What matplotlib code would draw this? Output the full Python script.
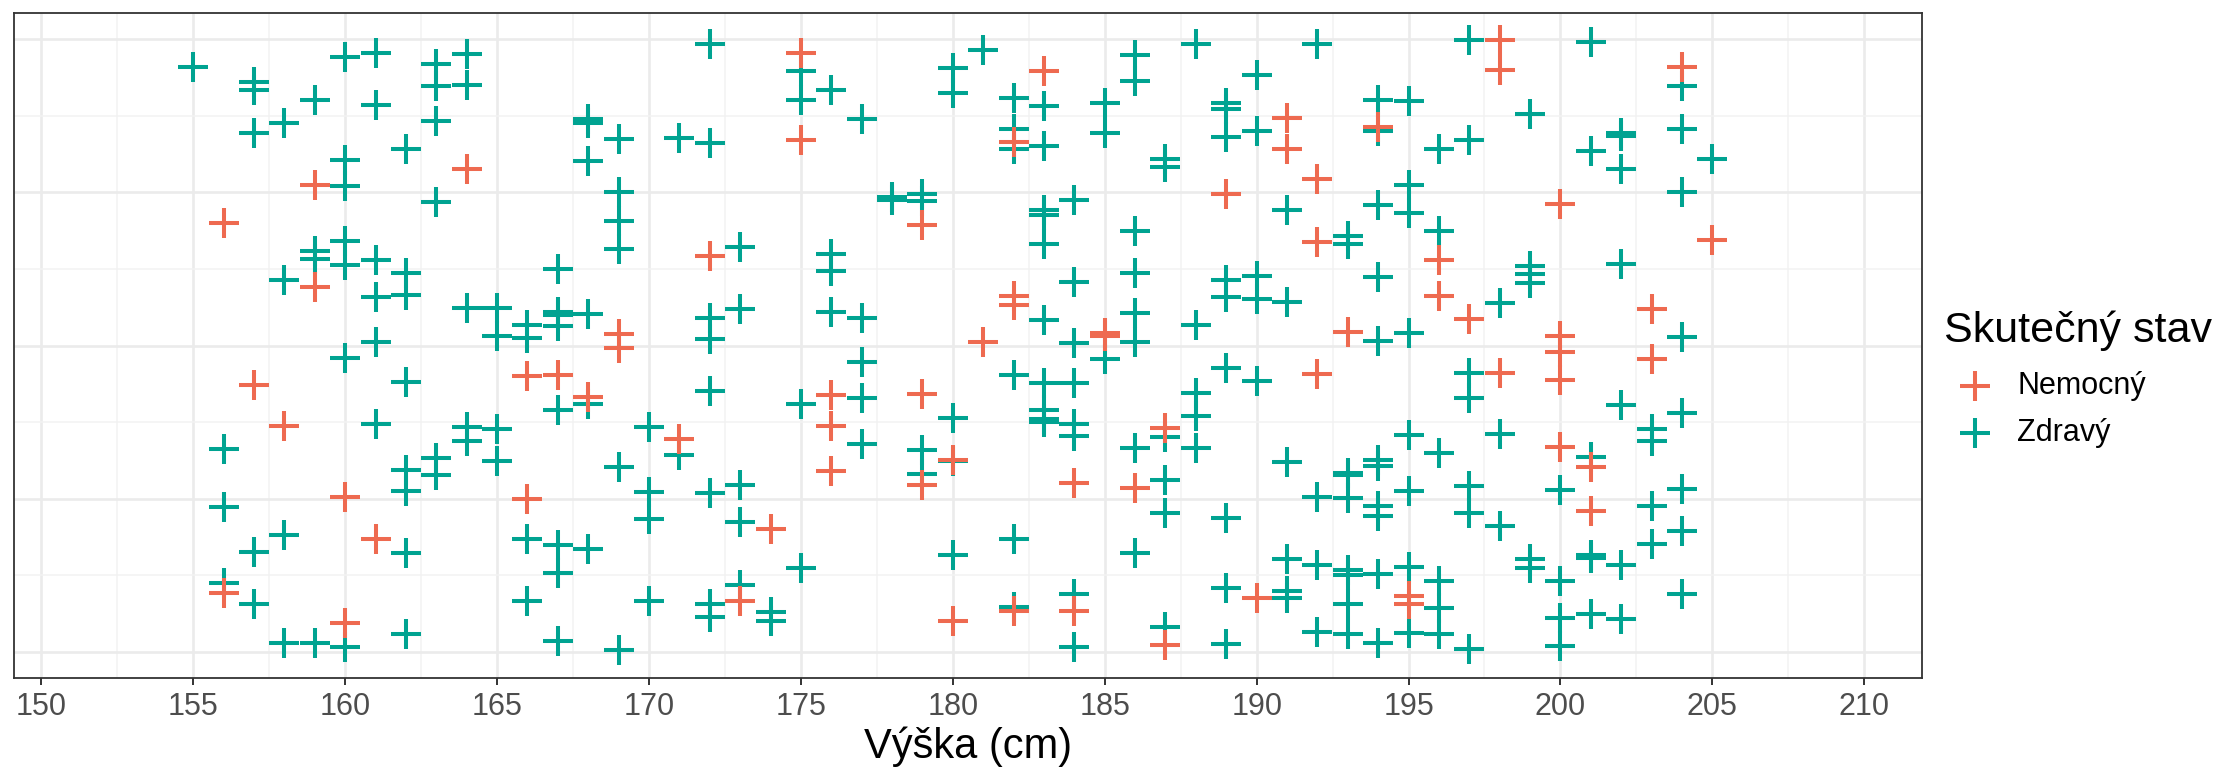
import matplotlib
matplotlib.use("Agg")
import matplotlib.pyplot as plt
from matplotlib.markers import MarkerStyle
import numpy as np

# vyska = height in cm, rozptyl = vertical jitter (gridlines at whole numbers)
nemocny_vyska = [156, 156, 157, 158, 159, 159, 160, 160, 161, 164, 166, 166, 167, 168, 169, 169,
                 171, 172, 173, 174, 175, 175, 176, 176, 176, 179, 179, 179, 180, 180, 181,
                 182, 182, 182, 182, 183, 184, 184, 185, 185, 186, 187, 187, 189, 190, 191, 191,
                 192, 192, 192, 193, 194, 195, 195, 196, 196, 197, 198, 198, 198,
                 200, 200, 200, 200, 200, 201, 201, 203, 203, 204, 205]
nemocny_rozptyl = [5.60, 0.77, 3.48, 2.95, 6.09, 4.77, 2.02, 0.38, 1.47, 6.30, 3.60, 2.00, 3.62, 3.33, 4.15, 3.97,
                   2.78, 5.17, 0.66, 1.61, 7.82, 6.68, 3.35, 2.95, 2.36, 5.57, 3.37, 2.18, 2.50, 0.41, 4.04,
                   6.66, 4.65, 4.53, 0.54, 7.58, 2.21, 0.53, 4.16, 4.13, 2.14, 2.92, 0.09, 5.98, 0.70, 6.97, 6.57,
                   6.17, 5.35, 3.63, 4.17, 6.85, 0.73, 0.63, 5.11, 4.64, 4.34, 7.99, 7.59, 3.64,
                   5.85, 4.13, 3.91, 3.55, 2.67, 2.41, 1.84, 4.47, 3.82, 7.64, 5.38]

zdravy_vyska = (
    [155] + [156] * 3 + [157] * 5 + [158] * 4 + [159] * 4 + [160] * 7 + [161] * 6 + [162] * 8
    + [163] * 6 + [164] * 5 + [165] * 4 + [166] * 4 + [167] * 8 + [168] * 6 + [169] * 6 + [170] * 4
    + [171] * 2 + [172] * 8 + [173] * 5 + [174] * 2 + [175] * 4 + [176] * 4 + [177] * 5 + [178] * 2
    + [179] * 4 + [180] * 5 + [181] * 1 + [182] * 6 + [183] * 10 + [184] * 8 + [185] * 3 + [186] * 8
    + [187] * 6 + [188] * 5 + [189] * 9 + [190] * 5 + [191] * 6 + [192] * 4 + [193] * 9 + [194] * 11
    + [195] * 8 + [196] * 6 + [197] * 7 + [198] * 3 + [199] * 6 + [200] * 4 + [201] * 6 + [202] * 7
    + [203] * 4 + [204] * 8 + [205] * 1
)
zdravy_rozptyl = [
    7.64,
    2.65, 1.89, 0.90,
    7.44, 7.33, 6.77, 1.31, 0.63,
    6.91, 4.85, 1.53, 0.12,
    7.21, 5.24, 5.13, 0.12,
    7.77, 6.42, 6.08, 5.37, 5.05, 3.84, 0.07,
    7.82, 7.14, 5.11, 4.63, 4.05, 2.97,
    6.56, 4.95, 4.66, 3.52, 2.38, 2.10, 1.29, 0.23,
    7.67, 7.39, 6.93, 5.87, 2.53, 2.31,
    7.80, 7.40, 4.49, 2.94, 2.75,
    4.49, 4.12, 2.91, 2.49,
    4.27, 4.10, 1.47, 0.67,
    5.00, 4.44, 4.40, 4.25, 3.16, 1.40, 1.03, 0.14,
    6.95, 6.90, 6.41, 4.41, 3.24, 1.34,
    6.70, 6.00, 5.63, 5.26, 2.41, 0.02,
    2.93, 2.09, 1.73, 0.67,
    6.71, 2.57,
    7.93, 6.64, 4.36, 4.09, 3.41, 2.07, 0.63, 0.45,
    5.28, 4.47, 2.18, 1.70, 0.88,
    0.52, 0.41,
    7.58, 7.20, 3.23, 1.09,
    7.33, 5.19, 4.97, 4.44,
    6.96, 4.36, 3.79, 3.32, 2.71,
    5.94, 5.90,
    5.98, 5.88, 2.63, 2.32,
    7.62, 7.30, 3.05, 2.49, 1.26,
    7.86,
    7.23, 6.82, 6.56, 3.62, 1.48, 0.59,
    7.13, 6.61, 5.77, 5.70, 5.32, 4.33, 3.51, 3.16, 3.04, 3.00,
    5.90, 4.83, 4.03, 3.51, 2.98, 2.82, 0.75, 0.07,
    7.17, 6.77, 3.83,
    7.79, 7.45, 5.50, 4.95, 4.43, 4.05, 2.66, 1.29,
    6.43, 6.33, 2.81, 2.24, 1.81, 0.33,
    7.93, 4.27, 3.38, 3.08, 2.66,
    7.17, 7.09, 6.72, 4.85, 4.63, 3.71, 1.75, 0.84, 0.10,
    7.53, 6.80, 4.91, 4.61, 3.54,
    5.77, 4.57, 2.48, 1.21, 0.80, 0.71,
    7.94, 2.02, 1.13, 0.26,
    5.43, 5.33, 2.34, 2.31, 2.01, 1.07, 1.00, 0.63, 0.24,
    7.20, 6.80, 5.84, 4.89, 4.06, 2.50, 2.43, 1.91, 1.78, 1.02, 0.12,
    7.19, 6.09, 5.73, 4.16, 2.83, 2.10, 1.11, 0.25,
    6.57, 5.50, 2.60, 0.93, 0.57, 0.23,
    7.99, 6.68, 3.64, 3.32, 2.16, 1.81, 0.04,
    4.56, 2.85, 1.65,
    7.02, 5.04, 4.93, 4.81, 1.21, 1.09,
    2.11, 0.93, 0.44, 0.08,
    7.96, 6.54, 2.54, 1.27, 1.23, 0.49,
    6.77, 6.74, 6.30, 5.07, 3.22, 1.14, 0.43,
    2.91, 2.76, 1.90, 1.41,
    7.39, 6.83, 6.00, 4.11, 3.12, 2.13, 1.58, 0.76,
    6.43,
]

x_ticks = list(range(150, 211, 5))
barva_nemocny = "#EE6A50"
barva_zdravy = "#00A391"

plt.rcParams['font.family'] = ['Liberation Sans', 'DejaVu Sans']

W, H = 2236, 773
fig = plt.figure(figsize=(W / 100, H / 100), dpi=100)
ax = fig.add_axes([14 / W, 1 - 678 / H, (1922 - 14) / W, (678 - 13) / H])

plus = MarkerStyle("+", capstyle="round")
ax.scatter(zdravy_vyska, zdravy_rozptyl, marker=plus, s=470, linewidths=2.9,
           color=barva_zdravy, label="Zdravý", zorder=3)
ax.scatter(nemocny_vyska, nemocny_rozptyl, marker=plus, s=470, linewidths=2.9,
           color=barva_nemocny, label="Nemocný", zorder=3)

ax.set_xlim(149.1, 211.9)
ax.set_ylim(-0.34, 8.34)
ax.set_xticks(x_ticks)
ax.set_xticks(np.arange(152.5, 211, 5), minor=True)
ax.set_yticks([0, 2, 4, 6, 8])
ax.set_yticks([1, 3, 5, 7], minor=True)
ax.grid(which="major", color="#EBEBEB", linewidth=1.9)
ax.grid(which="minor", color="#F2F2F2", linewidth=1.1)
ax.set_axisbelow(True)

ax.tick_params(axis="y", which="both", left=False, labelleft=False)
ax.tick_params(axis="x", which="minor", bottom=False)
ax.tick_params(axis="x", which="major", length=5, width=1.4, color="#333333",
               labelsize=22, labelcolor="#4D4D4D", pad=5)
for s in ax.spines.values():
    s.set_color("#333333")
    s.set_linewidth(1.3)

ax.set_xlabel("Výška (cm)", fontsize=30, labelpad=3)

handles, labels = ax.get_legend_handles_labels()
leg = ax.legend(handles[::-1], labels[::-1], title="Skutečný stav", loc="center left",
                bbox_to_anchor=(1944 / W, 0.507), bbox_transform=fig.transFigure,
                frameon=False, fontsize=22, title_fontsize=31, alignment="left",
                scatterpoints=1, handletextpad=0.4, labelspacing=0.53, borderaxespad=0,
                borderpad=0)
leg.get_title().set_position((0, 4))

fig.savefig("out.png", dpi=100)
